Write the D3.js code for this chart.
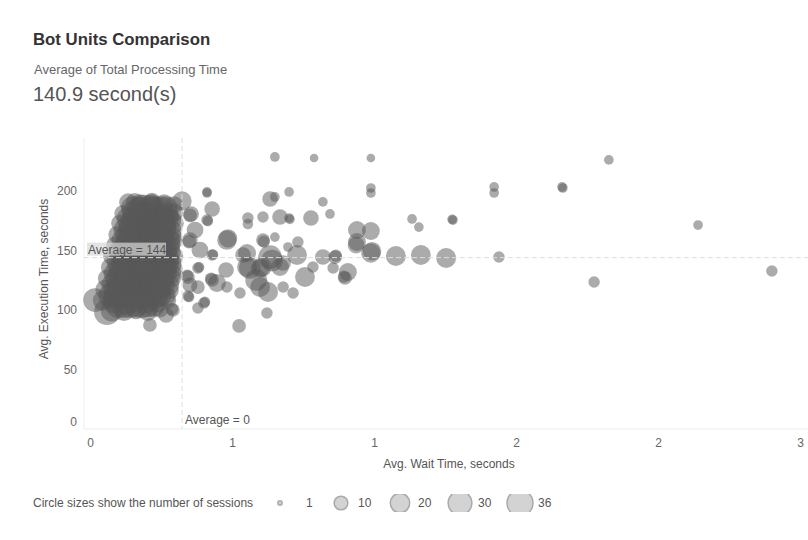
<!DOCTYPE html>
<html>
<head>
<meta charset="utf-8">
<script src="https://cdn.jsdelivr.net/npm/d3@7"></script>
<style>
  body { margin: 0; background: #fff; }
  svg text { font-family: "Liberation Sans", Arial, sans-serif; }
</style>
</head>
<body>
<svg id="chart" width="808" height="540"></svg>
<script>
// ---------------- DATA ----------------
const titleText = "Bot Units Comparison";
const kpiLabel = "Average of Total Processing Time";
const kpiValue = "140.9 second(s)";
const xAxisTitle = "Avg. Wait Time, seconds";
const yAxisTitle = "Avg. Execution Time, seconds";
const legendTitle = "Circle sizes show the number of sessions";

const xTickValues = [0, 0.5, 1, 1.5, 2, 2.5];
const xTickLabels = ["0", "1", "1", "2", "2", "3"];
const yTickValues = [0, 50, 100, 150, 200];
const yTickLabels = ["0", "50", "100", "150", "200"];

const avgWait = 0.324;
const avgExec = 144;
const avgWaitLabel = "Average = 0";
const avgExecLabel = "Average = 144";

const legendSessions = [1, 10, 20, 30, 36];

// dense group of bots with short wait times (outer layer)
const clusterWait = [
  0.134, 0.176, 0.218, 0.261, 0.296,
  0.116, 0.155, 0.194, 0.232, 0.271, 0.296,
  0.106, 0.144, 0.183, 0.222, 0.261, 0.296,
  0.095, 0.134, 0.173, 0.211, 0.250, 0.289,
  0.088, 0.127, 0.165, 0.204, 0.243, 0.282,
  0.077, 0.116, 0.155, 0.194, 0.232, 0.271, 0.296,
  0.070, 0.109, 0.148, 0.187, 0.225, 0.264, 0.296,
  0.060, 0.099, 0.137, 0.176, 0.215, 0.254, 0.289,
  0.053, 0.092, 0.130, 0.169, 0.208, 0.246, 0.282,
  0.046, 0.085, 0.123, 0.162, 0.201, 0.239, 0.275,
  0.077, 0.120, 0.162, 0.204, 0.246
];
const clusterExec = [
  190.5, 189.2, 191.0, 189.6, 188.4,
  181.0, 182.3, 180.8, 181.9, 180.5, 182.0,
  172.8, 171.5, 173.0, 172.1, 171.0, 172.6,
  163.4, 162.1, 163.8, 162.5, 163.2, 161.8,
  154.2, 153.1, 154.6, 153.5, 152.8, 154.0,
  145.0, 144.1, 143.8, 145.3, 144.6, 143.5, 144.9,
  135.8, 134.6, 135.2, 136.0, 134.9, 135.5, 134.4,
  126.5, 125.7, 126.9, 125.4, 126.2, 125.9, 126.6,
  117.2, 116.3, 117.5, 116.0, 116.9, 117.4, 116.5,
  108.0, 107.2, 106.9, 108.3, 107.5, 107.0, 108.1,
  99.6, 98.8, 99.9, 99.0, 100.4
];
const clusterSessions = [
  17, 20, 17, 18, 16,
  16, 30, 32, 30, 28, 18,
  17, 34, 36, 33, 30, 20,
  16, 33, 36, 35, 32, 20,
  17, 34, 36, 36, 33, 22,
  16, 32, 36, 35, 36, 30, 18,
  17, 33, 36, 34, 36, 30, 16,
  18, 34, 36, 35, 33, 30, 17,
  20, 33, 35, 36, 34, 28, 16,
  22, 30, 32, 30, 28, 24, 14,
  26, 20, 18, 20, 14
];

// dense group (inner layers)
const coreWait = [
  0.151, 0.190, 0.229, 0.268,
  0.137, 0.176, 0.215, 0.254, 0.282,
  0.127, 0.165, 0.204, 0.243, 0.282,
  0.120, 0.158, 0.197, 0.236, 0.275,
  0.109, 0.148, 0.187, 0.225, 0.264,
  0.102, 0.141, 0.180, 0.218, 0.257, 0.285,
  0.092, 0.130, 0.169, 0.208, 0.246, 0.282,
  0.085, 0.123, 0.162, 0.201, 0.239, 0.275,
  0.074, 0.113, 0.151, 0.190, 0.229, 0.264,
  0.099, 0.141, 0.183, 0.225
];
const coreExec = [
  185.7, 186.3, 185.2, 186.0,
  176.5, 177.0, 176.1, 176.8, 175.9,
  167.2, 166.7, 167.6, 167.0, 166.5,
  158.0, 158.5, 157.6, 158.3, 157.8,
  148.7, 149.2, 148.3, 148.9, 149.4,
  139.5, 139.0, 139.9, 139.3, 139.7, 138.8,
  130.3, 130.8, 129.9, 130.5, 130.1, 130.6,
  121.0, 121.4, 120.6, 121.2, 120.8, 121.5,
  111.8, 112.3, 111.4, 112.0, 111.6, 112.2,
  103.4, 103.9, 103.0, 103.6
];
const coreSessions = [
  30, 34, 33, 28,
  32, 36, 35, 34, 26,
  33, 36, 36, 35, 28,
  34, 36, 36, 36, 30,
  33, 36, 36, 36, 32,
  32, 36, 36, 36, 34, 24,
  33, 36, 36, 36, 34, 26,
  34, 36, 36, 35, 33, 26,
  34, 35, 36, 34, 32, 24,
  32, 33, 30, 26
];
const innerWait = [
  0.173, 0.211, 0.250,
  0.155, 0.194, 0.232, 0.271,
  0.144, 0.183, 0.222, 0.261,
  0.137, 0.176, 0.215, 0.254, 0.289,
  0.127, 0.165, 0.204, 0.243, 0.282,
  0.120, 0.158, 0.197, 0.236, 0.271,
  0.109, 0.148, 0.187, 0.225, 0.264,
  0.102, 0.141, 0.180, 0.218, 0.257,
  0.092, 0.130, 0.169, 0.208, 0.246,
  0.120, 0.162, 0.204
];
const innerExec = [
  185.3, 186.1, 185.6,
  176.2, 176.9, 176.4, 177.1,
  167.5, 166.9, 167.3, 167.8,
  157.7, 158.4, 157.9, 158.6, 158.1,
  148.4, 149.0, 148.6, 149.3, 148.8,
  139.2, 139.8, 139.4, 139.0, 139.6,
  130.0, 130.6, 130.2, 130.9, 130.4,
  120.7, 121.3, 120.9, 121.6, 121.1,
  111.5, 112.1, 111.7, 112.4, 111.9,
  103.2, 103.7, 103.3
];
const innerSessions = [
  30, 32, 30,
  33, 36, 34, 30,
  34, 36, 36, 32,
  34, 36, 36, 34, 22,
  33, 36, 36, 35, 24,
  34, 36, 36, 36, 30,
  33, 36, 36, 36, 30,
  34, 36, 36, 35, 30,
  33, 36, 36, 34, 28,
  30, 30, 26
];

// remaining bots
const spreadWait = [
  0.651, 0.789, 0.989, 1.827, 2.141, 1.775, 2.401, 1.440,
  1.254, 1.165, 1.077, 0.989, 0.993, 0.940, 0.937, 0.940,
  0.989, 0.989, 0.989, 1.423, 1.423, 1.662, 1.665, 1.134,
  1.158, 1.278, 1.275, 0.908, 0.898, 0.894, 0.863, 0.866,
  0.820, 0.845, 0.820, 0.778, 0.701, 0.669, 0.701, 0.704,
  0.634, 0.651, 0.609, 0.556, 0.556, 0.412, 0.412, 0.430,
  0.412, 0.415, 0.356, 0.352, 0.324, 0.651, 0.609, 0.612,
  0.482, 0.486, 0.732, 0.697, 0.634, 0.641, 0.606, 0.599,
  0.669, 0.553, 0.553, 0.729, 0.785, 0.856, 0.757, 0.599,
  0.627, 0.680, 0.715, 0.528, 0.380, 0.384, 0.430, 0.426,
  0.447, 0.482, 0.345, 0.349, 0.380, 0.401, 0.405, 0.623,
  0.525, 0.352, 0.349, 0.430, 0.433, 0.345, 0.342, 0.539,
  0.680, 0.268, 0.292, 0.289, 0.211, 0.018, 0.060, 0.158,
  0.218, 0.585, 0.563, 0.370, 0.387, 0.352, 0.380, 0.479
];
const spreadExec = [
  228.6, 227.7, 227.7, 226.1, 171.4, 123.5, 132.8, 144.5,
  143.7, 146.2, 145.4, 147.9, 149.5, 157.1, 154.5, 167.2,
  166.4, 202.5, 198.3, 203.4, 198.3, 203.4, 202.5, 176.5,
  169.7, 175.6, 176.2, 131.9, 126.9, 128.0, 144.5, 145.6,
  144.5, 180.7, 190.8, 177.3, 199.2, 178.2, 177.3, 176.2,
  193.3, 195.0, 178.2, 177.3, 172.3, 199.2, 198.3, 184.9,
  175.6, 174.8, 180.7, 179.5, 191.6, 161.3, 158.8, 157.5,
  158.8, 160.2, 157.1, 152.9, 144.5, 141.6, 136.1, 135.0,
  136.1, 147.9, 136.1, 146.2, 136.1, 135.3, 127.7, 119.3,
  115.1, 119.3, 114.3, 114.3, 135.3, 136.0, 125.2, 126.3,
  122.7, 119.3, 111.8, 110.9, 101.7, 105.9, 106.8, 97.5,
  86.6, 158.8, 157.5, 146.2, 146.6, 127.7, 128.8, 146.2,
  139.5, 95.8, 100.0, 100.8, 87.4, 108.4, 98.3, 190.8,
  189.9, 125.2, 135.3, 167.2, 150.4, 121.0, 119.3, 133.6
];
const spreadSessions = [
  5, 4, 4, 5, 5, 7, 7, 7,
  21, 21, 21, 20, 18, 17, 15, 17,
  17, 5, 5, 5, 5, 5, 5, 5,
  5, 5, 5, 17, 10, 8, 10, 8,
  13, 5, 5, 13, 5, 13, 5, 5,
  13, 5, 7, 7, 6, 5, 5, 13,
  7, 6, 13, 10, 20, 5, 10, 8,
  20, 18, 7, 5, 30, 25, 20, 18,
  17, 17, 21, 21, 7, 7, 21, 21,
  21, 7, 7, 7, 7, 6, 10, 8,
  17, 7, 7, 6, 7, 7, 6, 7,
  10, 13, 10, 7, 6, 10, 8, 13,
  13, 13, 10, 8, 10, 30, 36, 17,
  17, 25, 25, 15, 15, 12, 10, 13
];

// ---------------- CHART ----------------
const svg = d3.select("#chart");
const W = 808;
const plotLeft = 84, plotTop = 138;

const x = d3.scaleLinear().domain([0, 2.5]).range([90, 800]);
const y = d3.scaleLinear().domain([0, 200]).range([429, 191]);
const r = d3.scaleSqrt().domain([0, 36]).range([0, 13]);

// Titles
svg.append("text").attr("x", 33).attr("y", 45)
  .attr("font-size", "16.8px").attr("font-weight", "bold").attr("fill", "#333")
  .text(titleText);
svg.append("text").attr("x", 34).attr("y", 74)
  .attr("font-size", "13px").attr("fill", "#666").text(kpiLabel);
svg.append("text").attr("x", 33).attr("y", 101)
  .attr("font-size", "20px").attr("fill", "#555").text(kpiValue);

// axis lines
svg.append("line").attr("x1", plotLeft).attr("x2", W)
  .attr("y1", y(0)).attr("y2", y(0)).attr("stroke", "#eeeeee");
svg.append("line").attr("x1", plotLeft).attr("x2", plotLeft)
  .attr("y1", plotTop).attr("y2", y(0)).attr("stroke", "#eeeeee");

// axes
const gx = svg.append("g").attr("transform", `translate(0,${y(0)})`)
  .call(d3.axisBottom(x).tickValues(xTickValues)
    .tickFormat((d, i) => xTickLabels[i]).tickSize(0).tickPadding(9));
gx.select(".domain").remove();
gx.selectAll("text").attr("fill", "#666").style("font-size", "12px");

const gy = svg.append("g").attr("transform", `translate(${plotLeft},0)`)
  .call(d3.axisLeft(y).tickValues(yTickValues)
    .tickFormat((d, i) => yTickLabels[i]).tickSize(0).tickPadding(7));
gy.select(".domain").remove();
gy.selectAll("text").attr("fill", "#666").style("font-size", "12px");
gy.selectAll(".tick").filter(d => d === 0).select("text").attr("dy", "-0.27em");

// axis titles
svg.append("text").attr("x", 449).attr("y", 468).attr("text-anchor", "middle")
  .attr("font-size", "12px").attr("fill", "#555").text(xAxisTitle);
svg.append("text").attr("transform", "translate(48,279) rotate(-90)")
  .attr("text-anchor", "middle").attr("font-size", "12px").attr("fill", "#555")
  .text(yAxisTitle);

// points
const points = [];
clusterWait.forEach((w, i) => points.push({ w, e: clusterExec[i], n: clusterSessions[i] }));
coreWait.forEach((w, i) => points.push({ w, e: coreExec[i], n: coreSessions[i] }));
innerWait.forEach((w, i) => points.push({ w, e: innerExec[i], n: innerSessions[i] }));
spreadWait.forEach((w, i) => points.push({ w, e: spreadExec[i], n: spreadSessions[i] }));
points.sort((a, b) => b.n - a.n);

svg.append("g").selectAll("circle").data(points).join("circle")
  .attr("cx", d => x(d.w))
  .attr("cy", d => y(d.e))
  .attr("r", d => r(d.n))
  .attr("fill", "#575757")
  .attr("fill-opacity", 0.5);

// average lines
svg.append("line").attr("x1", plotLeft).attr("x2", W)
  .attr("y1", y(avgExec)).attr("y2", y(avgExec))
  .attr("stroke", "#dddddd").attr("stroke-dasharray", "5,3");
svg.append("line").attr("x1", x(avgWait)).attr("x2", x(avgWait))
  .attr("y1", plotTop).attr("y2", y(0))
  .attr("stroke", "#dddddd").attr("stroke-dasharray", "5,3");

// average labels
const ay = y(avgExec);
svg.append("rect").attr("x", 87).attr("y", ay - 15).attr("width", 79).attr("height", 13)
  .attr("fill", "rgb(215,215,215)").attr("fill-opacity", 0.7);
svg.append("text").attr("x", 88).attr("y", ay - 4)
  .attr("font-size", "12px").attr("fill", "#555").text(avgExecLabel);
svg.append("text").attr("x", x(avgWait) + 3).attr("y", 424)
  .attr("font-size", "12px").attr("fill", "#555").text(avgWaitLabel);

// legend
svg.append("text").attr("x", 33).attr("y", 507)
  .attr("font-size", "12px").attr("fill", "#555").text(legendTitle);
svg.append("clipPath").attr("id", "legclip")
  .append("rect").attr("x", 260).attr("y", 494).attr("width", 320).attr("height", 18);
const legendX = [280, 341, 400, 460, 520];
const legendLabelX = [306, 358, 418, 478, 538];
const lg = svg.append("g");
legendSessions.forEach((n, i) => {
  lg.append("circle").attr("cx", legendX[i]).attr("cy", 503).attr("r", r(n))
    .attr("fill", "#d3d3d3").attr("stroke", "#aaaaaa").attr("stroke-width", 1.5)
    .attr("clip-path", "url(#legclip)");
  lg.append("text").attr("x", legendLabelX[i]).attr("y", 507)
    .attr("font-size", "12px").attr("fill", "#555").text(n);
});
</script>
</body>
</html>
